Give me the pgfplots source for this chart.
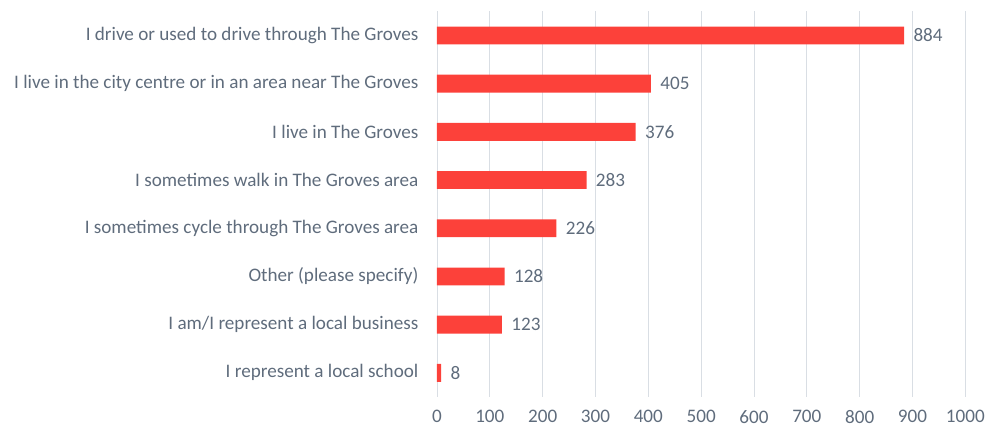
\documentclass[border={11pt 0pt 6pt 11pt}]{standalone}
\usepackage{pgfplots}
\pgfplotsset{compat=1.18}
\usepackage{fontspec}
\setmainfont{Carlito}
\definecolor{barred}{RGB}{252,65,58}
\definecolor{txtgray}{RGB}{95,108,124}
\definecolor{gridgray}{RGB}{217,222,228}
\begin{document}
\begin{tikzpicture}
\begin{axis}[
    scale only axis,
    width=533pt, height=389pt,
    xbar, bar width=18pt,
    xmin=0, xmax=1000,
    ymin=-0.5, ymax=7.5,
    xtick={0,100,...,1000},
    ytick={0,...,7},
    yticklabels={I represent a local school, I am/I represent a local business, Other (please specify), I sometimes cycle through The Groves area, I sometimes walk in The Groves area, I live in The Groves, I live in the city centre or in an area near The Groves, I drive or used to drive through The Groves},
    axis line style={draw=none},
    tick style={draw=none},
    xmajorgrids, major grid style={gridgray, line width=0.9pt},
    ticklabel style={font=\fontsize{19.3}{21}\selectfont, text=txtgray},
    /pgf/number format/assume math mode=true,
    /pgf/number format/1000 sep={},
    yticklabel style={xshift=-11pt},
    xticklabel style={yshift=-10pt},
    nodes near coords,
    nodes near coords style={font=\fontsize{19.3}{21}\selectfont, text=txtgray, xshift=6pt, /pgf/number format/assume math mode=true},
    clip=false,
]
\addplot[fill=barred, draw=none] coordinates {
    (8,0) (123,1) (128,2) (226,3) (283,4) (376,5) (405,6) (884,7)
};
\end{axis}
\end{tikzpicture}
\end{document}
